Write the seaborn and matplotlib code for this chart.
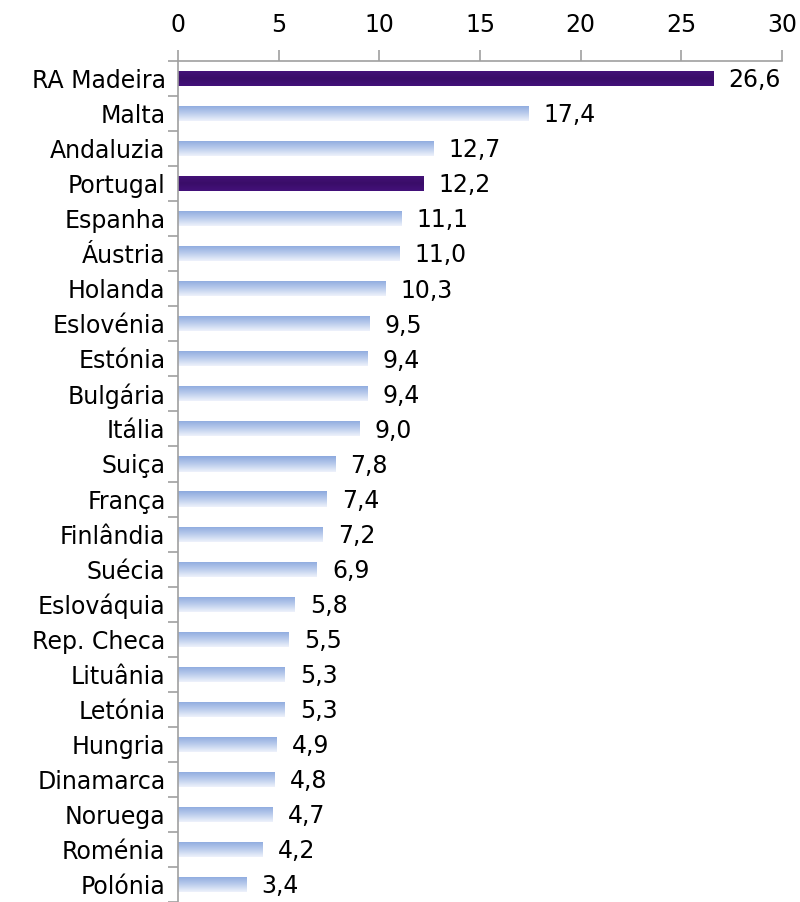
import numpy as np
import pandas as pd
import matplotlib
matplotlib.use("Agg")
import matplotlib.pyplot as plt
from matplotlib.colors import LinearSegmentedColormap
import seaborn as sns

# data
countries = ["RA Madeira", "Malta", "Andaluzia", "Portugal", "Espanha", "Áustria",
             "Holanda", "Eslovénia", "Estónia", "Bulgária", "Itália", "Suiça",
             "França", "Finlândia", "Suécia", "Eslováquia", "Rep. Checa", "Lituânia",
             "Letónia", "Hungria", "Dinamarca", "Noruega", "Roménia", "Polónia"]
values = [26.6, 17.4, 12.7, 12.2, 11.1, 11.0, 10.3, 9.5, 9.4, 9.4, 9.0, 7.8,
          7.4, 7.2, 6.9, 5.8, 5.5, 5.3, 5.3, 4.9, 4.8, 4.7, 4.2, 3.4]
highlight = ["RA Madeira", "Portugal"]

df = pd.DataFrame({"country": countries, "value": values})

sns.set_style("white")
plt.rcParams["font.family"] = ["DejaVu Sans"]
fs = 17

fig = plt.figure(figsize=(8, 9.02), dpi=100)
ax = fig.add_axes([0.2225, 0.0, 0.755, 1 - 61 / 902])

sns.barplot(data=df, x="value", y="country", orient="h", width=0.43,
            color="white", ax=ax)

blue = LinearSegmentedColormap.from_list("b", ["#8ca9de", "#b9cbec", "#eef2fb"])
purple = LinearSegmentedColormap.from_list("p", ["#45137a", "#3a0d68", "#43117a"])
grad = np.linspace(0, 1, 64).reshape(-1, 1)

for patch, name in zip(ax.patches, countries):
    x0, y0 = patch.get_x(), patch.get_y()
    w, h = patch.get_width(), patch.get_height()
    patch.set_facecolor("none")
    patch.set_edgecolor("none")
    cmap = purple if name in highlight else blue
    im = ax.imshow(grad, cmap=cmap, aspect="auto", extent=[x0, x0 + w, y0 + h, y0],
                   interpolation="bilinear", zorder=2)
    im.set_clip_path(patch)
    ax.text(x0 + w + 0.75, y0 + h / 2 + 0.05, f"{w:.1f}".replace(".", ","),
            va="center", ha="left", fontsize=fs, color="black")

ax.set_xlim(0, 30)
ax.set_ylim(23.5, -0.5)
ax.set_xticks(range(0, 31, 5))
ax.xaxis.tick_top()
ax.set_xlabel("")
ax.set_ylabel("")

ax.set_yticks(np.arange(len(countries)))
ax.set_yticklabels(countries)
ax.set_yticks(np.arange(-0.5, len(countries), 1), minor=True)
ax.tick_params(axis="y", which="major", length=0, labelsize=fs, pad=9,
               labelcolor="black")
ax.tick_params(axis="y", which="minor", length=7, color="#a0a0a0", width=1.2,
               direction="out", left=True)
ax.tick_params(axis="x", which="major", length=8, color="#a0a0a0", width=1.2,
               direction="out", top=True, labelsize=fs, pad=9, labelcolor="black")

for side in ["right", "bottom"]:
    ax.spines[side].set_visible(False)
for side in ["left", "top"]:
    ax.spines[side].set_color("#a0a0a0")
    ax.spines[side].set_linewidth(1.2)

fig.savefig("out.png", dpi=100)
